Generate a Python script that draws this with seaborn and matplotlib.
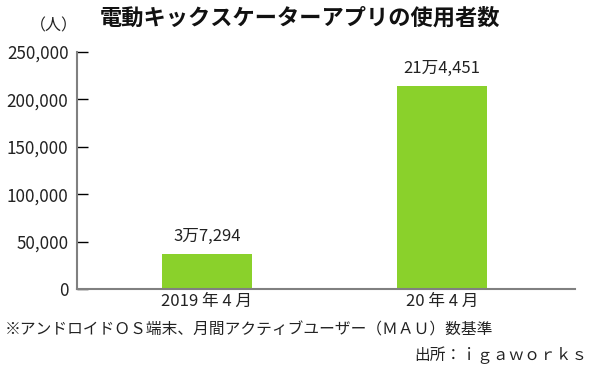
import pandas as pd
import seaborn as sns
import matplotlib.pyplot as plt
from matplotlib.ticker import FuncFormatter

# Data
periods = ['2019 年 4 月', '20 年 4 月']
users = [37294, 214451]
value_labels = ['3万7,294', '21万4,451']
y_ticks = [0, 50000, 100000, 150000, 200000, 250000]

df = pd.DataFrame({'period': periods, 'users': users})

sns.set_theme(style='white')
plt.rcParams['font.family'] = ['Noto Sans CJK JP', 'DejaVu Sans']

fig = plt.figure(figsize=(6, 3.69), dpi=100)
ax = fig.add_axes([0.128, 0.217, 0.83, 0.642])

sns.barplot(data=df, x='period', y='users', color='#8ad12b',
            width=0.383, saturation=1, linewidth=0, ax=ax)

ax.set_xlim(-0.553, 1.566)
ax.set_ylim(0, 250000)
ax.set_yticks(y_ticks)
ax.yaxis.set_major_formatter(FuncFormatter(lambda v, p: f'{int(v):,}'))
ax.set_xlabel('')
ax.set_ylabel('')

# Spines and ticks
for s in ['top', 'right']:
    ax.spines[s].set_visible(False)
for s in ['left', 'bottom']:
    ax.spines[s].set_color('#808080')
    ax.spines[s].set_linewidth(1.5)
ax.tick_params(axis='y', direction='in', length=8, width=1, color='black',
               labelsize=12.3, labelcolor='#222222', pad=6, left=True)
ax.tick_params(axis='x', length=0, labelsize=12, labelcolor='#222222', pad=3)

# Value labels above bars
for i, (v, lab) in enumerate(zip(users, value_labels)):
    ax.annotate(lab, (i, v), xytext=(0, 6), textcoords='offset points',
                ha='center', va='bottom', fontsize=12, color='#222222')

# Title, unit, notes
fig.text(0.5, 0.952, '電動キックスケーターアプリの使用者数', ha='center', va='center',
         fontsize=16, fontweight='bold', color='#111111')
fig.text(0.09, 0.93, '（人）', ha='center', va='center', fontsize=11.5, color='#222222')
fig.text(0.008, 0.107, '※アンドロイドＯＳ端末、月間アクティブユーザー（ＭＡＵ）数基準',
         ha='left', va='center', fontsize=11.3, color='#222222')
fig.text(0.98, 0.038, '出所：ｉｇａｗｏｒｋｓ', ha='right', va='center',
         fontsize=11.3, color='#222222')

fig.savefig('out.png', dpi=100)
